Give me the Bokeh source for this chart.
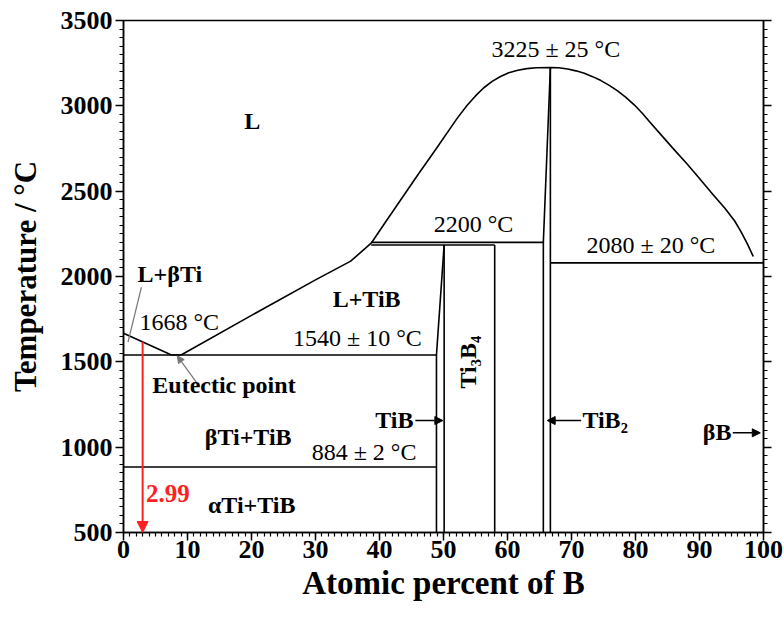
from bokeh.plotting import figure
from bokeh.models import (Range1d, LinearAxis, SingleIntervalTicker, Label, Arrow, NormalHead,
                          CustomLabelingPolicy)
from bokeh.embed import file_html
from bokeh.resources import INLINE

# ---------------- data (atomic % B, temperature in °C) ----------------
x_tick_step = 10
y_tick_step = 500

liq_ti_x = [0, 7.5]
liq_ti_t = [1668, 1540]

liq_tib_x = [9.0, 20, 30, 35.5, 38.7]
liq_tib_t = [1540, 1772, 1980, 2090, 2195]

dome_x = [38.7, 41, 43.3, 46, 48.75, 52.1, 53.7, 55, 56.3, 57.6, 58.9, 60.2, 61.6, 63, 64.5,
          66.7, 68, 69.4, 70.7, 72.0, 73.3, 74.6, 75.9, 77.2, 78.5, 79.8, 81.1, 82.4, 84, 86,
          88, 90, 92, 94, 95.5, 96.5, 97.5, 98.4]
dome_t = [2195, 2322, 2448, 2596, 2743, 2925, 3003, 3058, 3106, 3143, 3172, 3194, 3209, 3218, 3223,
          3225, 3223, 3216, 3205, 3191, 3171, 3148, 3120, 3088, 3050, 3006, 2955, 2898, 2830, 2745,
          2662, 2574, 2485, 2398, 2325, 2262, 2190, 2117]

# invariant (horizontal) lines: temperature, x from, x to
iso_t = [1540, 884, 2185, 2200, 2080]
iso_x0 = [0, 0, 38.7, 38.7, 66.7]
iso_x1 = [48.9, 48.9, 58.0, 65.6, 100]

# phase boundaries (compound lines)
bound_xs = [[48.9, 48.9, 50.1], [50.1, 50.1], [58.0, 58.0], [65.6, 65.6, 66.7], [66.7, 66.7]]
bound_ts = [[500, 1540, 2185], [500, 2185], [500, 2185], [500, 2200, 3225], [500, 3225]]

alloy_x = 2.99
alloy_t_top = 1617
t_min, t_max = 500, 3500

SERIF = "Liberation Serif"

p = figure(width=784, height=617, x_range=Range1d(0, 100), y_range=Range1d(t_min, t_max),
           output_backend="svg", toolbar_location=None,
           min_border_left=123, min_border_top=20, min_border_right=21, min_border_bottom=85)
p.grid.visible = False
p.background_fill_color = "white"
p.border_fill_color = "white"
p.outline_line_color = "black"
p.outline_line_width = 1.5
p.outline_line_alpha = 1.0

p.xaxis.ticker = SingleIntervalTicker(interval=x_tick_step, num_minor_ticks=10)
p.yaxis.ticker = SingleIntervalTicker(interval=y_tick_step, num_minor_ticks=10)
for ax in (p.xaxis[0], p.yaxis[0]):
    ax.axis_line_width = 1.5
    ax.major_tick_line_width = 1.5
    ax.minor_tick_line_width = 1.2
    ax.major_tick_in = 0
    ax.major_tick_out = 8
    ax.minor_tick_in = 0
    ax.minor_tick_out = 4
    ax.major_label_text_font = SERIF
    ax.major_label_text_font_style = "bold"
    ax.major_label_text_font_size = "26px"
    ax.major_label_text_color = "black"
    ax.axis_label_text_font = SERIF
    ax.axis_label_text_font_style = "bold"
    ax.axis_label_text_color = "black"
p.xaxis.axis_label = "Atomic percent of B"
p.yaxis.axis_label = "Temperature / °C"
p.xaxis.axis_label_text_font_size = "33px"
p.yaxis.axis_label_text_font_size = "31px"
p.xaxis.major_label_standoff = 0
p.xaxis.axis_label_standoff = 4
p.yaxis.major_label_standoff = 3
p.yaxis.axis_label_standoff = 15

right = LinearAxis(ticker=SingleIntervalTicker(interval=y_tick_step, num_minor_ticks=10),
                   major_label_text_font_size="1px",
                   major_label_policy=CustomLabelingPolicy(code="for (const i of indices) { indices.unset(i) }"),
                   axis_line_width=1.5,
                   major_tick_line_width=1.5, minor_tick_line_width=1.2,
                   major_tick_in=0, major_tick_out=8, minor_tick_in=0, minor_tick_out=4,
                   major_label_standoff=0)
p.add_layout(right, "right")

LW = 1.6
kw = dict(line_color="black", line_width=LW, line_join="round")
p.line(liq_ti_x, liq_ti_t, **kw)
p.line([liq_ti_x[-1], liq_tib_x[0]], [liq_ti_t[-1], liq_tib_t[0]], **kw)
p.line(liq_tib_x, liq_tib_t, **kw)
p.line(dome_x, dome_t, **kw)
p.segment(x0=iso_x0, y0=iso_t, x1=iso_x1, y1=iso_t, line_color="black", line_width=LW)
p.multi_line(xs=bound_xs, ys=bound_ts, **kw)

# red composition arrow
p.add_layout(Arrow(x_start=alloy_x, y_start=alloy_t_top, x_end=alloy_x, y_end=t_min,
                   line_color="#ff2020", line_width=2,
                   end=NormalHead(size=11, fill_color="#ff2020", line_color="#ff2020")))

# gray pointers
p.line([2.8, 0.7], [1937, 1615], line_color="#777777", line_width=1.2)
p.add_layout(Arrow(x_start=11.4, y_start=1380, x_end=8.4, y_end=1535,
                   line_color="#777777", line_width=1.2,
                   end=NormalHead(size=7, fill_color="#777777", line_color="#777777")))

# phase pointers
for xs, xe, t in [(45.6, 49.9, 1156), (71.5, 66.2, 1156), (95.2, 99.5, 1084)]:
    p.add_layout(Arrow(x_start=xs, y_start=t, x_end=xe, y_end=t, line_color="black", line_width=1.5,
                       end=NormalHead(size=8, fill_color="black", line_color="black")))


def lab(x, y, text, bold=True, align="left", size="24px", color="black", angle=0):
    p.add_layout(Label(x=x, y=y, text=text, text_font=SERIF,
                       text_font_style="bold" if bold else "normal",
                       text_font_size=size, text_color=color, text_align=align,
                       text_baseline="middle", angle=angle))


lab(20.1, 2914, "L", align="center")
lab(2.2, 2012, "L+βTi")
lab(2.5, 1736, "1668 °C", bold=False)
lab(4.5, 1367, "Eutectic point")
lab(43.3, 1871, "L+TiB", align="right")
lab(46.6, 1642, "1540 ± 10 °C", bold=False, align="right")
lab(54.7, 2309, "2200 °C", bold=False, align="center")
lab(67.55, 3334, "3225 ± 25 °C", bold=False, align="center")
lab(82.4, 2182, "2080 ± 20 °C", bold=False, align="center")
lab(53.9, 1498, "Ti₃B₄", align="center", angle=1.5708)
lab(45.3, 1160, "TiB", align="right")
lab(71.7, 1160, "TiB₂")
lab(95.0, 1090, "βB", align="right")
lab(12.7, 1060, "βTi+TiB")
lab(29.4, 970, "884 ± 2 °C", bold=False)
lab(13.2, 660, "αTi+TiB")
lab(3.5, 730, "2.99", color="#ff2020", size="25px")

open("out.html", "w").write(file_html(p, INLINE))
